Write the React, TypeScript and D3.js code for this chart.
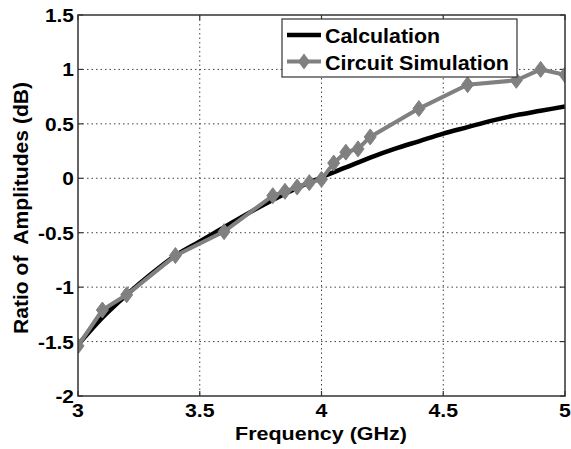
import React from "react";
import * as d3 from "d3";

const xTicks = [3, 3.5, 4, 4.5, 5];
const yTicks = [-2, -1.5, -1, -0.5, 0, 0.5, 1, 1.5];

const calcFreq = [3.0, 3.1, 3.2, 3.3, 3.4, 3.5, 3.6, 3.7, 3.8, 3.9, 4.0, 4.1, 4.2, 4.3, 4.4, 4.5, 4.6, 4.7, 4.8, 4.9, 5.0];
const calcVal = [-1.53, -1.28, -1.07, -0.88, -0.71, -0.58, -0.45, -0.32, -0.2, -0.09, 0.01, 0.1, 0.19, 0.27, 0.34, 0.41, 0.47, 0.53, 0.58, 0.62, 0.66];

const simFreq = [3.0, 3.1, 3.2, 3.4, 3.6, 3.8, 3.85, 3.9, 3.95, 4.0, 4.05, 4.1, 4.15, 4.2, 4.4, 4.6, 4.8, 4.9, 5.0];
const simVal = [-1.54, -1.21, -1.07, -0.71, -0.49, -0.16, -0.12, -0.08, -0.04, -0.01, 0.14, 0.24, 0.27, 0.38, 0.64, 0.86, 0.9, 1.0, 0.95];

const W = 571, H = 449;
const L = 78, R = 565, T = 15, B = 396;
const FONT = "'Liberation Sans', Arial, sans-serif";

export default function App() {
  const x = d3.scaleLinear().domain([3, 5]).range([L, R]);
  const y = d3.scaleLinear().domain([-2, 1.5]).range([B, T]);
  const calc = calcFreq.map((f, i) => [f, calcVal[i]] as [number, number]);
  const sim = simFreq.map((f, i) => [f, simVal[i]] as [number, number]);
  const calcLine = d3.line<[number, number]>().x(d => x(d[0])).y(d => y(d[1])).curve(d3.curveMonotoneX);
  const simLine = d3.line<[number, number]>().x(d => x(d[0])).y(d => y(d[1]));
  const diamond = (cx: number, cy: number, r: number) => `M${cx},${cy - r}L${cx + r * 0.75},${cy}L${cx},${cy + r}L${cx - r * 0.75},${cy}Z`;

  return (
    <svg width={W} height={H} style={{ position: "absolute", left: 0, top: 0, background: "#fff" }} fontFamily={FONT}>
      <rect x={0} y={0} width={W} height={H} fill="#fff" />
      <defs>
        <clipPath id="plot"><rect x={L} y={T} width={R - L} height={B - T} /></clipPath>
      </defs>
      {/* grid */}
      {xTicks.slice(1, -1).map(t => (
        <line key={"gx" + t} x1={x(t)} x2={x(t)} y1={T} y2={B} stroke="#444" strokeWidth={1} strokeDasharray="1.5,3" />
      ))}
      {yTicks.slice(1, -1).map(t => (
        <line key={"gy" + t} x1={L} x2={R} y1={y(t)} y2={y(t)} stroke="#444" strokeWidth={1} strokeDasharray="1.5,3" />
      ))}
      {/* ticks */}
      {xTicks.map(t => (
        <g key={"tx" + t}>
          <line x1={x(t)} x2={x(t)} y1={B} y2={B - 5} stroke="#333" strokeWidth={1.2} />
          <line x1={x(t)} x2={x(t)} y1={T} y2={T + 5} stroke="#333" strokeWidth={1.2} />
          <text transform={`translate(${x(t)},${B + 21}) scale(1.12,1)`} textAnchor="middle" fontSize={19} fontWeight="bold" fill="#000">{t}</text>
        </g>
      ))}
      {yTicks.map(t => (
        <g key={"ty" + t}>
          <line x1={L} x2={L + 5} y1={y(t)} y2={y(t)} stroke="#333" strokeWidth={1.2} />
          <line x1={R} x2={R - 5} y1={y(t)} y2={y(t)} stroke="#333" strokeWidth={1.2} />
          <text transform={`translate(${L - 4},${y(t) + 7}) scale(1.1,1)`} textAnchor="end" fontSize={19} fontWeight="bold" fill="#000">{t}</text>
        </g>
      ))}
      <g clipPath="url(#plot)">
        <path d={calcLine(calc) || ""} fill="none" stroke="#000" strokeWidth={4.5} />
        <path d={simLine(sim) || ""} fill="none" stroke="#808080" strokeWidth={4} />
        {sim.map((d, i) => (
          <path key={"m" + i} d={diamond(x(d[0]), y(d[1]), 8)} fill="#808080" stroke="#808080" strokeWidth={1} />
        ))}
      </g>
      <rect x={L} y={T} width={R - L} height={B - T} fill="none" stroke="#333" strokeWidth={1.5} />
      {/* legend */}
      <rect x={282} y={19} width={235} height={58} fill="#fff" stroke="#333" strokeWidth={1.2} />
      <line x1={287} x2={321} y1={35} y2={35} stroke="#000" strokeWidth={4.5} />
      <text x={325} y={43} fontSize={20} fontWeight="bold" fill="#000" textLength={115} lengthAdjust="spacingAndGlyphs">Calculation</text>
      <line x1={287} x2={321} y1={61.5} y2={61.5} stroke="#808080" strokeWidth={4} />
      <path d={diamond(304, 61.5, 8)} fill="#808080" />
      <text x={325} y={69.5} fontSize={20} fontWeight="bold" fill="#000" textLength={184} lengthAdjust="spacingAndGlyphs">Circuit Simulation</text>
      {/* axis labels */}
      <text x={235} y={440} fontSize={19} fontWeight="bold" fill="#000" textLength={172} lengthAdjust="spacingAndGlyphs">Frequency (GHz)</text>
      <text transform={`translate(28,208) rotate(-90)`} textAnchor="middle" fontSize={20} fontWeight="bold" fill="#000" xmlSpace="preserve" textLength={252} lengthAdjust="spacingAndGlyphs">Ratio of  Amplitudes (dB)</text>
    </svg>
  );
}
